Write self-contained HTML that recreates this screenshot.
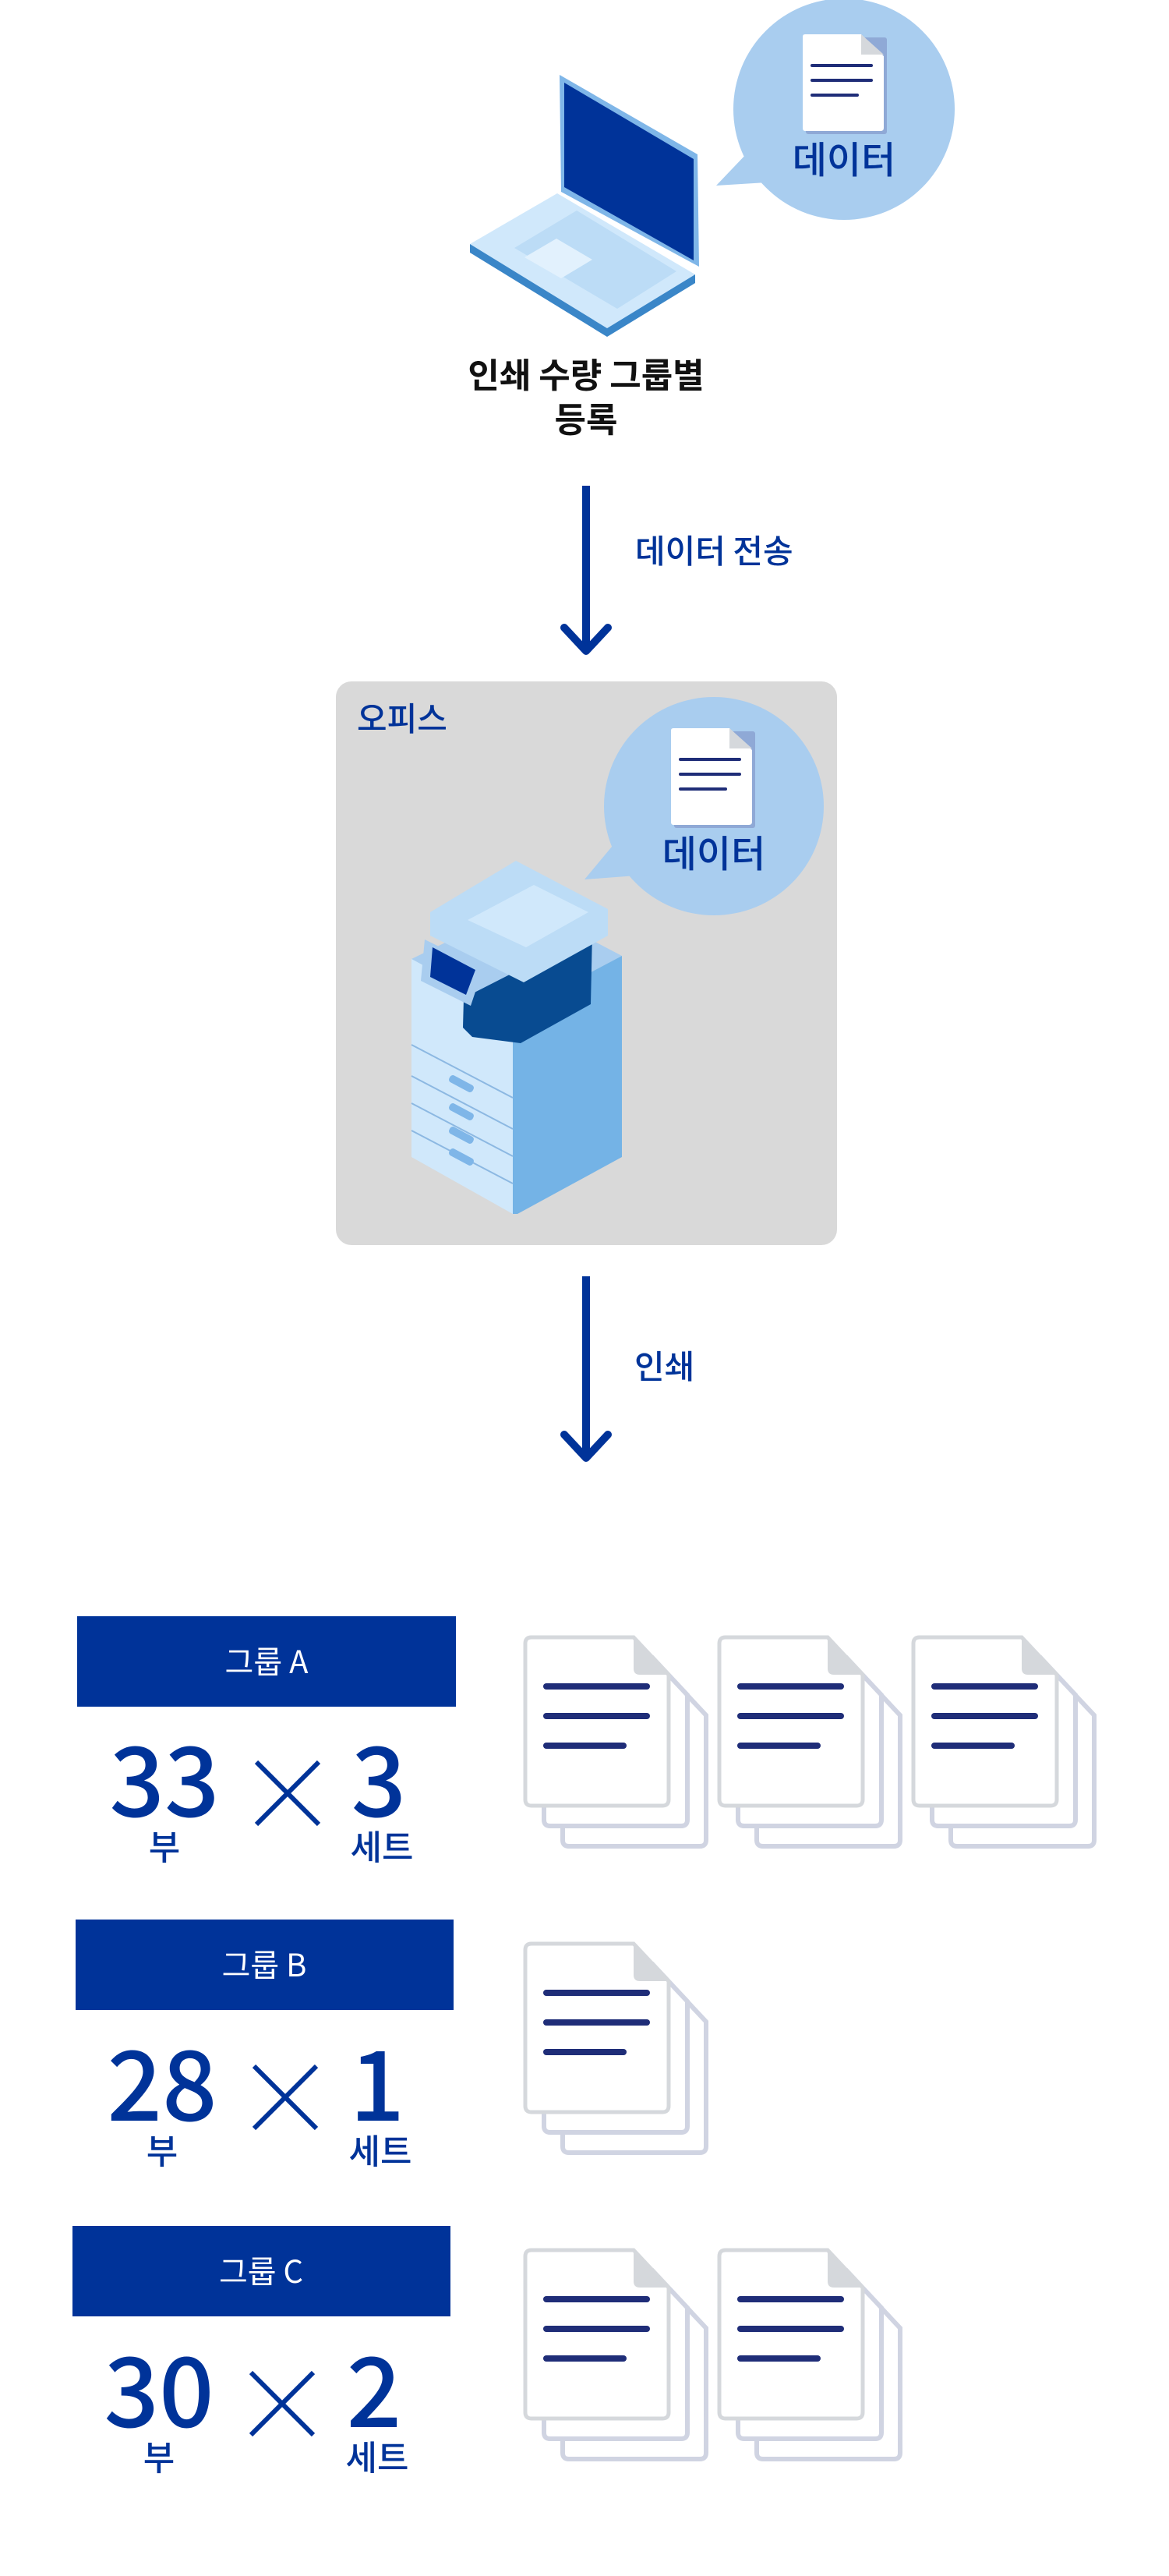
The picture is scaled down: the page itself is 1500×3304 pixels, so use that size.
<!DOCTYPE html>
<html><head><meta charset="utf-8"><style>
html,body{margin:0;padding:0;background:#fff}
svg{display:block}
text{font-family:"Noto Sans CJK KR","Liberation Sans",sans-serif}
</style></head><body>
<svg width="1500" height="3304" viewBox="0 0 1500 3304" xmlns="http://www.w3.org/2000/svg">
<defs>
<g id="doc">
  <path d="M0 8 Q0 0 8 0 H139 L184 48 V208 Q184 216 176 216 H8 Q0 216 0 208 Z" fill="#fff" stroke="#d5d8dc" stroke-width="5"/>
  <path d="M139 0 V40 Q139 48 147 48 H184 Z" fill="#d5d8dc"/>
  <line x1="27" y1="63" x2="156" y2="63" stroke="#1f2d78" stroke-width="8" stroke-linecap="round"/>
  <line x1="27" y1="101" x2="156" y2="101" stroke="#1f2d78" stroke-width="8" stroke-linecap="round"/>
  <line x1="27" y1="139" x2="126" y2="139" stroke="#1f2d78" stroke-width="8" stroke-linecap="round"/>
</g>
<g id="stack">
  <path d="M48 60 Q48 52 56 52 H187 L232 100 V260 Q232 268 224 268 H56 Q48 268 48 260 Z" fill="#fff" stroke="#d0d4e2" stroke-width="6"/>
  <path d="M24 34 Q24 26 32 26 H163 L208 74 V234 Q208 242 200 242 H32 Q24 242 24 234 Z" fill="#fff" stroke="#d0d4e2" stroke-width="6"/>
  <use href="#doc"/>
</g>
<g id="smalldoc">
  <rect x="4" y="4" width="104" height="124" rx="3" fill="#8fa9d6"/>
  <path d="M0 3 Q0 0 3 0 H75 L104 28 V120 Q104 124 100 124 H3 Q0 124 0 120 Z" fill="#fff"/>
  <path d="M75 0 V26 H104 Z" fill="#d5d8dc"/>
  <line x1="12" y1="40" x2="88" y2="40" stroke="#1f2d78" stroke-width="4" stroke-linecap="round"/>
  <line x1="12" y1="59" x2="88" y2="59" stroke="#1f2d78" stroke-width="4" stroke-linecap="round"/>
  <line x1="12" y1="78" x2="70" y2="78" stroke="#1f2d78" stroke-width="4" stroke-linecap="round"/>
</g>
<g id="times">
  <line x1="0" y1="0" x2="80" y2="80" stroke="#003399" stroke-width="6"/>
  <line x1="80" y1="0" x2="0" y2="80" stroke="#003399" stroke-width="6"/>
</g>
</defs>

<ellipse cx="1083" cy="140" rx="142" ry="142" fill="#a9cdef"/>
<polygon points="960,195 919,238 1000,233" fill="#a9cdef"/>
<use href="#smalldoc" x="1030" y="44"/>
<text x="1083" y="222" font-size="48" font-weight="500" fill="#003399" text-anchor="middle">데이터</text>

<polygon points="603,313 715,248 892,352 779,421" fill="#d0e8fb"/>
<polygon points="603,313 603,324 779,432 892,363 892,352 779,421" fill="#3a86c8"/>
<polygon points="718,96 895,198 897,342 720,246" fill="#7fb6e8"/>
<polygon points="724,106 890,204 890,334 724,240" fill="#003399"/>
<polygon points="660,318 740,270 868,348 792,396" fill="#bcdcf6"/>
<polygon points="673,330 714,306 760,333 720,357" fill="#e2f1fd"/>

<text x="752" y="497" font-size="44" font-weight="700" fill="#111" text-anchor="middle">인쇄 수량 그룹별</text>
<text x="752" y="554" font-size="44" font-weight="700" fill="#111" text-anchor="middle">등록</text>

<line x1="752" y1="623" x2="752" y2="835" stroke="#003399" stroke-width="10"/>
<polyline points="724,805 752,835 780,805" fill="none" stroke="#003399" stroke-width="10" stroke-linecap="round" stroke-linejoin="round"/>
<text x="815" y="722" font-size="42" font-weight="500" fill="#003399">데이터 전송</text>

<rect x="431" y="874" width="643" height="723" rx="20" fill="#d9d9d9"/>
<text x="458" y="937" font-size="42" font-weight="500" fill="#003399">오피스</text>
<ellipse cx="916" cy="1034" rx="141" ry="140" fill="#a9cdef"/>
<polygon points="790,1080 750,1128 830,1122" fill="#a9cdef"/>
<use href="#smalldoc" x="861" y="934"/>
<text x="916" y="1112" font-size="48" font-weight="500" fill="#003399" text-anchor="middle">데이터</text>

<polygon points="528,1230 672,1160 798,1226 658,1300" fill="#a9cdef"/>
<polygon points="528,1230 658,1300 658,1557 528,1484" fill="#d0e8fb"/>
<polygon points="658,1300 798,1226 798,1484 664,1557 658,1557" fill="#74b3e6"/>
<polygon points="595,1280 760,1196 758,1288 668,1338 606,1330 594,1318" fill="#084b91"/>
<polygon points="552,1170 662,1104 780,1166 780,1200 672,1260 552,1200" fill="#bcdcf6"/>
<polygon points="600,1180 685,1135 755,1170 675,1215" fill="#d0e8fb"/>
<polygon points="545,1205 620,1242 604,1290 540,1258" fill="#a9cdef"/>
<polygon points="555,1215 610,1244 598,1276 552,1253" fill="#003399"/>
<g stroke="#8cb8e2" stroke-width="2" fill="none">
<line x1="528" y1="1340" x2="658" y2="1408"/>
<line x1="528" y1="1380" x2="658" y2="1448"/>
<line x1="528" y1="1415" x2="658" y2="1483"/>
<line x1="528" y1="1450" x2="658" y2="1518"/>
</g>
<g fill="#7fb6e8">
<rect x="575" y="1385" width="34" height="10" rx="4" transform="rotate(28 592 1390)"/>
<rect x="575" y="1421" width="34" height="10" rx="4" transform="rotate(28 592 1426)"/>
<rect x="575" y="1451" width="34" height="10" rx="4" transform="rotate(28 592 1456)"/>
<rect x="575" y="1479" width="34" height="10" rx="4" transform="rotate(28 592 1484)"/>
</g>

<line x1="752" y1="1637" x2="752" y2="1870" stroke="#003399" stroke-width="10"/>
<polyline points="724,1840 752,1870 780,1840" fill="none" stroke="#003399" stroke-width="10" stroke-linecap="round" stroke-linejoin="round"/>
<text x="814" y="1768" font-size="42" font-weight="500" fill="#003399">인쇄</text>

<rect x="99" y="2073" width="486" height="116" fill="#003399"/>
<text x="342" y="2146" font-size="40" fill="#fff" text-anchor="middle">그룹 A</text>
<text x="211" y="2330" font-size="124" font-weight="500" fill="#003399" text-anchor="middle">33</text>
<use href="#times" x="329" y="2260"/>
<text x="486" y="2330" font-size="124" font-weight="500" fill="#003399" text-anchor="middle">3</text>
<text x="211" y="2385" font-size="44" font-weight="500" fill="#003399" text-anchor="middle">부</text>
<text x="490" y="2385" font-size="44" font-weight="500" fill="#003399" text-anchor="middle">세트</text>
<use href="#stack" x="674" y="2100"/>
<use href="#stack" x="923" y="2100"/>
<use href="#stack" x="1172" y="2100"/>

<rect x="97" y="2462" width="485" height="116" fill="#003399"/>
<text x="339" y="2535" font-size="40" fill="#fff" text-anchor="middle">그룹 B</text>
<text x="208" y="2720" font-size="124" font-weight="500" fill="#003399" text-anchor="middle">28</text>
<use href="#times" x="326" y="2650"/>
<text x="484" y="2720" font-size="124" font-weight="500" fill="#003399" text-anchor="middle">1</text>
<text x="208" y="2775" font-size="44" font-weight="500" fill="#003399" text-anchor="middle">부</text>
<text x="488" y="2775" font-size="44" font-weight="500" fill="#003399" text-anchor="middle">세트</text>
<use href="#stack" x="674" y="2493"/>

<rect x="93" y="2855" width="485" height="116" fill="#003399"/>
<text x="335" y="2928" font-size="40" fill="#fff" text-anchor="middle">그룹 C</text>
<text x="204" y="3113" font-size="124" font-weight="500" fill="#003399" text-anchor="middle">30</text>
<use href="#times" x="322" y="3043"/>
<text x="480" y="3113" font-size="124" font-weight="500" fill="#003399" text-anchor="middle">2</text>
<text x="204" y="3168" font-size="44" font-weight="500" fill="#003399" text-anchor="middle">부</text>
<text x="484" y="3168" font-size="44" font-weight="500" fill="#003399" text-anchor="middle">세트</text>
<use href="#stack" x="674" y="2886"/>
<use href="#stack" x="923" y="2886"/>
</svg>
</body></html>
